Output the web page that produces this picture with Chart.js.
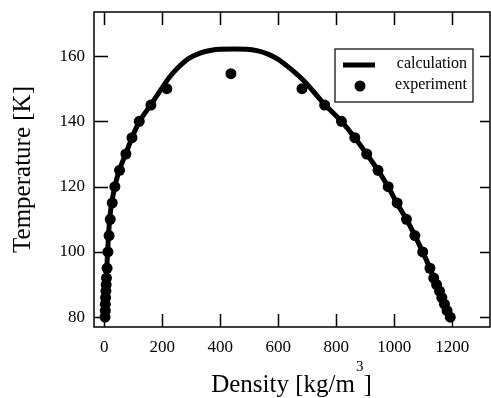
<!DOCTYPE html>
<html>
<head>
<meta charset="utf-8">
<script src="https://cdn.jsdelivr.net/npm/chart.js@4"></script>
<style>
  html, body { margin: 0; padding: 0; background: #fff; }
  #wrap { width: 491px; height: 398px; }
</style>
</head>
<body>
<div id="wrap"><canvas id="chart"></canvas></div>
<script>
// Axis ticks
const densityTicks = [0, 200, 400, 600, 800, 1000, 1200];
const tempTicks = [80, 100, 120, 140, 160];

// Calculated coexistence curve (density, temperature)
const calcDensity = [3, 5, 7, 9, 12, 15, 19, 26, 37, 52, 74, 96, 122, 160, 198, 225, 255, 292, 333, 370, 400,
    490, 530, 565, 600, 630, 660, 690, 720, 762, 818, 864, 905, 944, 979, 1009, 1042, 1071, 1098, 1123, 1146, 1165, 1184, 1194];
const calcTemp = [80, 85, 90, 95, 100, 105, 110, 115, 120, 125, 130, 135, 140, 145, 150, 153.5, 156.5, 159.3, 161, 161.8, 162.1,
    162.1, 161.6, 160.6, 159, 157, 154.8, 152.3, 149.3, 145, 140, 135, 130, 125, 120, 115, 110, 105, 100, 95, 90, 86, 82, 80];

// Experimental saturation points
const expDensity = [3, 4, 4, 5, 6, 7, 8, 10, 13, 17, 21, 28, 37, 53, 75, 96, 121, 161, 216, 437,
    682, 760, 818, 864, 905, 944, 979, 1010, 1042, 1071, 1098, 1123, 1136, 1146, 1156, 1164, 1173, 1182, 1193];
const expTemp = [80, 82, 84, 86, 88, 90, 92, 95, 100, 105, 110, 115, 120, 125, 130, 135, 140, 145, 150, 154.6,
    150, 145, 140, 135, 130, 125, 120, 115, 110, 105, 100, 95, 92, 90, 88, 86, 84, 82, 80];

const serif = "'Liberation Serif', 'Times New Roman', serif";

// Draws the closed frame, inward ticks, the legend box and the x title
const framePlugin = {
    id: 'frame',
    afterDatasetsDraw(chart) {
        const { ctx, chartArea: a, scales: { x, y } } = chart;
        ctx.save();
        ctx.strokeStyle = '#000';
        ctx.lineWidth = 1.5;
        ctx.strokeRect(a.left, a.top, a.right - a.left, a.bottom - a.top);

        ctx.beginPath();
        x.ticks.forEach(t => {
            const px = Math.round(x.getPixelForValue(t.value)) + 0.5;
            ctx.moveTo(px, a.bottom); ctx.lineTo(px, a.bottom - 13);
            ctx.moveTo(px, a.top); ctx.lineTo(px, a.top + 13);
        });
        y.ticks.forEach(t => {
            const py = Math.round(y.getPixelForValue(t.value)) + 0.5;
            ctx.moveTo(a.left, py); ctx.lineTo(a.left + 14, py);
            ctx.moveTo(a.right, py); ctx.lineTo(a.right - 10, py);
        });
        ctx.stroke();

        // legend
        const lx = a.left + 241, ly = a.top + 37, lw = 138, lh = 53;
        ctx.fillStyle = '#fff';
        ctx.fillRect(lx, ly, lw, lh);
        ctx.lineWidth = 1.2;
        ctx.strokeRect(lx, ly, lw, lh);

        ctx.lineWidth = 5;
        ctx.beginPath();
        ctx.moveTo(lx + 8, ly + 16); ctx.lineTo(lx + 40, ly + 16);
        ctx.stroke();

        ctx.fillStyle = '#000';
        ctx.beginPath();
        ctx.arc(lx + 25, ly + 37, 5.5, 0, Math.PI * 2);
        ctx.fill();

        ctx.font = '16px ' + serif;
        ctx.textAlign = 'right';
        ctx.textBaseline = 'middle';
        ctx.fillText('calculation', lx + lw - 6, ly + 15);
        ctx.fillText('experiment', lx + lw - 6, ly + 36);

        // x axis title with a raised exponent
        const big = '25px ' + serif, small = '15px ' + serif;
        const p1 = 'Density [kg/m', p2 = '3', p3 = ']';
        ctx.font = big;
        const w1 = ctx.measureText(p1).width, w3 = ctx.measureText(p3).width;
        ctx.font = small;
        const w2 = ctx.measureText(p2).width;
        let tx = (a.left + a.right) / 2 - 1 - (w1 + w2 + w3) / 2;
        const base = 392;
        ctx.textAlign = 'left';
        ctx.textBaseline = 'alphabetic';
        ctx.font = big;
        ctx.fillText(p1, tx, base);
        ctx.font = small;
        ctx.fillText(p2, tx + w1 + 1, base - 21);
        ctx.font = big;
        ctx.fillText(p3, tx + w1 + w2 + 1, base);
        ctx.restore();
    }
};

const ctx = document.getElementById('chart');

new Chart(ctx, {
    type: 'scatter',
    data: {
        datasets: [
            {
                label: 'calculation',
                data: calcDensity.map((d, i) => ({ x: d, y: calcTemp[i] })),
                showLine: true,
                borderColor: '#000',
                borderWidth: 5,
                pointRadius: 0,
                tension: 0.3,
                fill: false
            },
            {
                label: 'experiment',
                data: expDensity.map((d, i) => ({ x: d, y: expTemp[i] })),
                showLine: false,
                backgroundColor: '#000',
                borderColor: '#000',
                pointRadius: 5.5,
                borderWidth: 0
            }
        ]
    },
    options: {
        responsive: true,
        maintainAspectRatio: false,
        animation: false,
        layout: { autoPadding: false, padding: { top: 12, right: 1, left: 0, bottom: 0 } },
        plugins: {
            legend: { display: false },
            tooltip: { enabled: false }
        },
        scales: {
            x: {
                type: 'linear',
                min: -35,
                max: 1330,
                afterBuildTicks: scale => { scale.ticks = densityTicks.map(v => ({ value: v })); },
                afterFit: scale => {
                    scale.height = 71;
                    scale.paddingLeft = 0;
                    scale.paddingRight = 0;
                },
                grid: { display: false, drawTicks: false },
                border: { display: false },
                ticks: {
                    color: '#000',
                    padding: 10,
                    maxRotation: 0,
                    callback: v => String(v),
                    font: { family: serif, size: 17 }
                },
                title: { display: false }
            },
            y: {
                type: 'linear',
                min: 77,
                max: 173.5,
                afterBuildTicks: scale => { scale.ticks = tempTicks.map(v => ({ value: v })); },
                afterFit: scale => {
                    scale.width = 94;
                    scale.paddingTop = 0;
                    scale.paddingBottom = 0;
                },
                grid: { display: false, drawTicks: false },
                border: { display: false },
                ticks: {
                    color: '#000',
                    padding: 9,
                    callback: v => String(v),
                    font: { family: serif, size: 17 }
                },
                title: {
                    display: true,
                    text: 'Temperature [K]',
                    color: '#000',
                    padding: { top: 8, bottom: 0 },
                    font: { family: serif, size: 25 }
                }
            }
        }
    },
    plugins: [framePlugin]
});
</script>
</body>
</html>
